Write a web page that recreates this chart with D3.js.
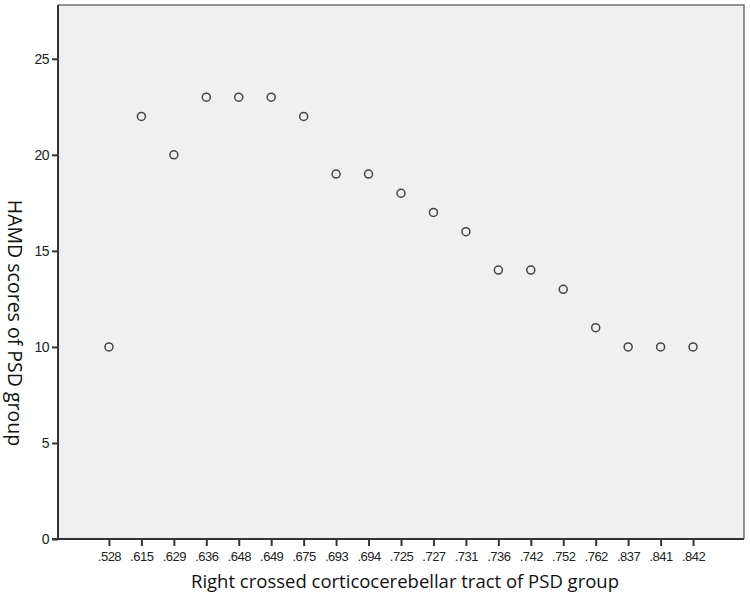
<!DOCTYPE html>
<html>
<head>
<meta charset="utf-8">
<script src="https://cdn.jsdelivr.net/npm/d3@7"></script>
<style>
  body { margin: 0; background: #ffffff; }
  svg { display: block; }
</style>
</head>
<body>
<svg id="chart" width="750" height="600"></svg>
<script>
const categories = [".528", ".615", ".629", ".636", ".648", ".649", ".675", ".693", ".694", ".725", ".727", ".731", ".736", ".742", ".752", ".762", ".837", ".841", ".842"];
const hamdValues = [10, 22, 20, 23, 23, 23, 22, 19, 19, 18, 17, 16, 14, 14, 13, 11, 10, 10, 10];
const yTicks = [0, 5, 10, 15, 20, 25];
const xTitle = "Right crossed corticocerebellar tract of PSD group";
const yTitle = "HAMD scores of PSD group";

(function () {
const svg = d3.select("#chart");
const pL = 58, pR = 744, pT = 5, pB = 539;

const x = d3.scalePoint().domain(categories).range([pL, pR]).padding(1.57);
const y = d3.scaleLinear().domain([0, 27.8]).range([pB, pT]);

// plot background
svg.append("rect")
  .attr("x", pL).attr("y", pT)
  .attr("width", pR - pL).attr("height", pB - pT)
  .attr("fill", "#f0f0f0");

// top and right frame
svg.append("path")
  .attr("d", `M${pL},${pT}H${pR}V${pB}`)
  .attr("fill", "none").attr("stroke", "#707070").attr("stroke-width", 1.5);

// y axis
const yAxis = svg.append("g")
  .attr("transform", `translate(${pL},0)`)
  .call(d3.axisLeft(y).tickValues(yTicks).tickSize(6).tickPadding(3).tickFormat(d3.format("d")));
yAxis.select(".domain").attr("d", `M0,${pT}V${pB}`).attr("stroke", "#333").attr("stroke-width", 2);
yAxis.selectAll(".tick line").attr("stroke", "#333").attr("stroke-width", 2);
yAxis.selectAll(".tick text")
  .attr("font-family", "Liberation Sans, Arial, sans-serif")
  .attr("font-size", 14).attr("letter-spacing", "-0.5px").attr("fill", "#222");

// x axis
const xAxis = svg.append("g")
  .attr("transform", `translate(0,${pB})`)
  .call(d3.axisBottom(x).tickSize(7).tickPadding(6));
xAxis.select(".domain").attr("d", `M${pL - 6},0H${pR}`).attr("stroke", "#333").attr("stroke-width", 2);
xAxis.selectAll(".tick line").attr("stroke", "#333").attr("stroke-width", 2);
xAxis.selectAll(".tick text")
  .attr("font-family", "Liberation Sans, Arial, sans-serif")
  .attr("font-size", 13).attr("letter-spacing", "-0.5px").attr("fill", "#222");

// points
svg.append("g").selectAll("circle")
  .data(categories.map((c, i) => ({c, v: hamdValues[i]})))
  .join("circle")
  .attr("cx", d => x(d.c))
  .attr("cy", d => y(d.v))
  .attr("r", 4)
  .attr("fill", "none")
  .attr("stroke", "#444")
  .attr("stroke-width", 1.5);

// titles
svg.append("text")
  .attr("x", 405).attr("y", 588)
  .attr("text-anchor", "middle")
  .attr("font-family", "Open Sans, sans-serif")
  .attr("font-size", 18.5)
  .attr("fill", "#111")
  .text(xTitle);

svg.append("text")
  .attr("transform", `translate(8,323) rotate(90)`)
  .attr("text-anchor", "middle")
  .attr("font-family", "Open Sans, sans-serif")
  .attr("font-size", 19.5)
  .attr("fill", "#111")
  .text(yTitle);
})();
</script>
</body>
</html>
